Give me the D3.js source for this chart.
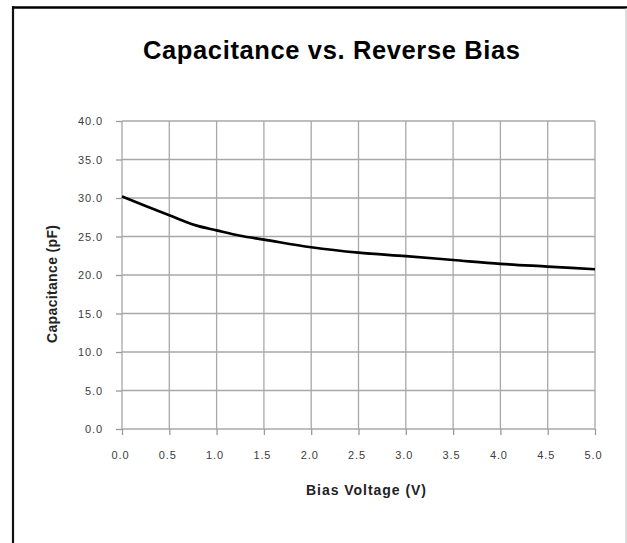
<!DOCTYPE html>
<html>
<head>
<meta charset="utf-8">
<script src="https://cdn.jsdelivr.net/npm/d3@7"></script>
<style>
  html, body { margin: 0; padding: 0; background: #fff; }
  svg { display: block; font-family: "Liberation Sans", Arial, Helvetica, sans-serif; }
  .grid line { stroke: #a8a8a8; stroke-width: 1.3; }
  .axis path { display: none; }
  .axis line { stroke: #9a9a9a; stroke-width: 1.3; }
  .axis text { fill: #3c3c3c; font-size: 11px; letter-spacing: 0.9px; }
  .axis-title { font-weight: bold; font-size: 14px; fill: #222; }
  .title { font-weight: bold; font-size: 25.5px; fill: #000; }
  .line { fill: none; stroke: #000; stroke-width: 2.7; stroke-linejoin: round; }
</style>
</head>
<body>
<svg class="chart" width="627" height="543"></svg>
<script>
(function () {
  "use strict";

  const title = "Capacitance vs. Reverse Bias";
  const xTitle = "Bias Voltage (V)";
  const yTitle = "Capacitance (pF)";

  const biasVoltage = [0, 0.25, 0.5, 0.78, 1.0, 1.25, 1.5, 2.0, 2.5, 3.0, 3.5, 4.0, 4.5, 5.0];
  const capacitance = [30.2, 28.95, 27.75, 26.45, 25.8, 25.1, 24.6, 23.6, 22.9, 22.45, 21.95, 21.45, 21.1, 20.75];
  const xTicks = [0, 0.5, 1, 1.5, 2, 2.5, 3, 3.5, 4, 4.5, 5];
  const yTicks = [0, 5, 10, 15, 20, 25, 30, 35, 40];

  const data = biasVoltage.map((v, i) => ({ v, c: capacitance[i] }));

  const svg = d3.select(".chart");
  const margin = { top: 121, left: 122, right: 32, bottom: 114 };
  const width = 627 - margin.left - margin.right;
  const height = 543 - margin.top - margin.bottom;
  const fmt = d3.format(".1f");

  // outer frame
  svg.append("line").attr("x1", 13).attr("x2", 627).attr("y1", 7.5).attr("y2", 7.5)
    .attr("stroke", "#000").attr("stroke-width", 2.5);
  svg.append("line").attr("x1", 13).attr("x2", 13).attr("y1", 6).attr("y2", 543)
    .attr("stroke", "#111").attr("stroke-width", 2.2);
  svg.append("line").attr("x1", 626).attr("x2", 626).attr("y1", 8).attr("y2", 543)
    .attr("stroke", "#bbb").attr("stroke-width", 1);

  svg.append("text")
    .attr("class", "title")
    .attr("x", 331.5)
    .attr("y", 58.5)
    .attr("text-anchor", "middle")
    .attr("textLength", 377)
    .attr("lengthAdjust", "spacing")
    .text(title);

  const chart = svg.append("g").attr("transform", `translate(${margin.left},${margin.top})`);
  const x = d3.scaleLinear().domain([0, 5]).range([0, width]);
  const y = d3.scaleLinear().domain([0, 40]).range([height, 0]);

  const grid = chart.append("g").attr("class", "grid");

  grid.selectAll("line.v")
    .data(xTicks)
    .join("line")
    .attr("class", "v")
    .attr("x1", d => x(d)).attr("x2", d => x(d))
    .attr("y1", 0).attr("y2", height);

  grid.selectAll("line.h")
    .data(yTicks)
    .join("line")
    .attr("class", "h")
    .attr("x1", 0).attr("x2", width)
    .attr("y1", d => y(d)).attr("y2", d => y(d));

  const xAxis = chart.append("g")
    .attr("class", "axis")
    .attr("transform", `translate(0,${height})`)
    .call(d3.axisBottom(x).tickValues(xTicks).tickFormat(fmt).tickSize(6).tickPadding(16));
  xAxis.selectAll("text").attr("dx", -2);

  chart.append("g")
    .attr("class", "axis")
    .call(d3.axisLeft(y).tickValues(yTicks).tickFormat(fmt).tickSize(6).tickPadding(13));

  const line = d3.line()
    .x(d => x(d.v))
    .y(d => y(d.c))
    .curve(d3.curveMonotoneX);

  chart.append("path")
    .datum(data)
    .attr("class", "line")
    .attr("d", line);

  svg.append("text")
    .attr("class", "axis-title")
    .attr("x", 366)
    .attr("y", 495)
    .attr("text-anchor", "middle")
    .attr("textLength", 120)
    .attr("lengthAdjust", "spacing")
    .text(xTitle);

  svg.append("text")
    .attr("class", "axis-title")
    .attr("transform", "translate(57,284) rotate(-90)")
    .attr("text-anchor", "middle")
    .attr("textLength", 118)
    .attr("lengthAdjust", "spacing")
    .text(yTitle);
})();
</script>
</body>
</html>
